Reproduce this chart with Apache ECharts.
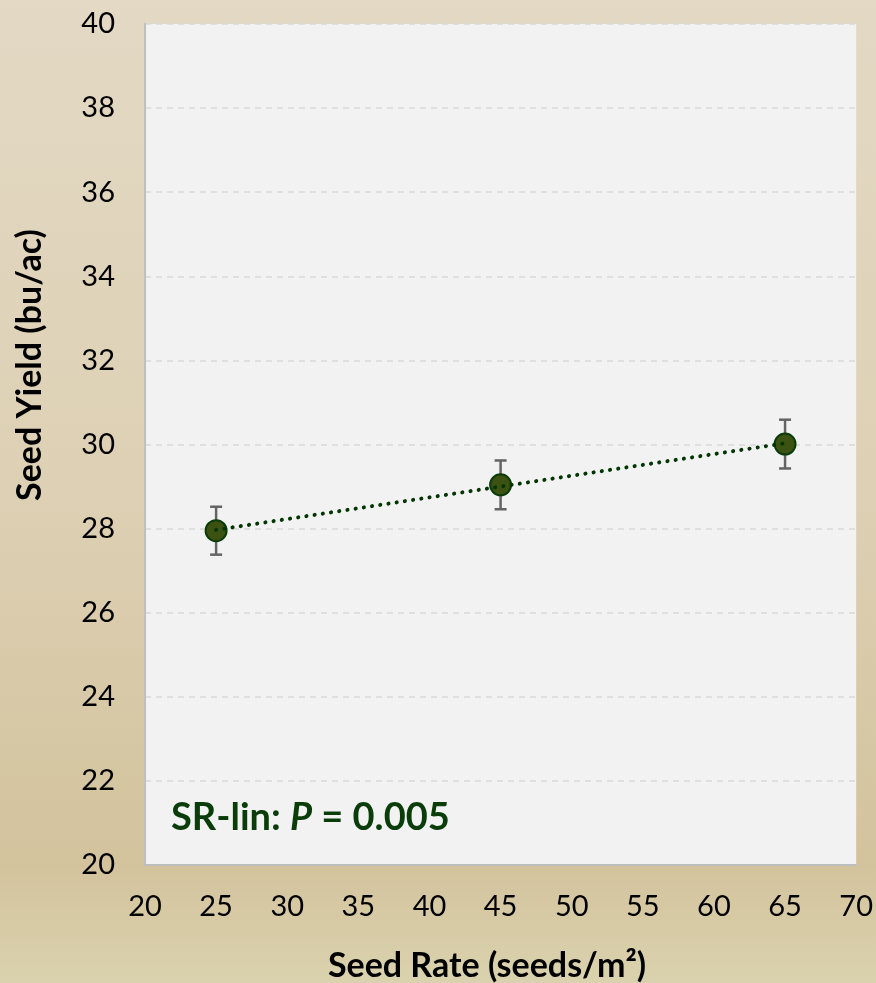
<!DOCTYPE html>
<html>
<head>
<meta charset="utf-8">
<script src="https://cdn.jsdelivr.net/npm/echarts@6/dist/echarts.min.js"></script>
<style>
html,body{margin:0;padding:0;width:876px;height:983px;overflow:hidden;}
#chart{width:876px;height:983px;}
</style>
</head>
<body>
<div id="chart"></div>
<script>
// Data
const seedRates = [25, 45, 65];
const seedYield = [27.95, 29.04, 30.01];
const yieldErr = [0.57, 0.58, 0.58];
const trendX = [25, 65];
const trendY = [27.97, 30.03];
const xTicks = [20, 25, 30, 35, 40, 45, 50, 55, 60, 65, 70];
const yTicks = [20, 22, 24, 26, 28, 30, 32, 34, 36, 38, 40];
const annotation = { label: 'SR-lin: ', italic: 'P', rest: ' = 0.005' };
const xTitle = 'Seed Rate (seeds/m²)';
const yTitle = 'Seed Yield (bu/ac)';

const FONT = 'Lato, "Open Sans", sans-serif';
const chart = echarts.init(document.getElementById('chart'), null, { renderer: 'canvas' });

const points = seedRates.map((x, i) => [x, seedYield[i]]);
const errData = seedRates.map((x, i) => [x, seedYield[i] - yieldErr[i], seedYield[i] + yieldErr[i]]);
const trendData = trendX.map((x, i) => [x, trendY[i]]);

const option = {
  animation: false,
  backgroundColor: 'transparent',
  graphic: [
    {
      type: 'rect', z: -100, silent: true,
      shape: { x: 0, y: 0, width: 876, height: 983 },
      style: {
        fill: new echarts.graphic.LinearGradient(0, 0, 0, 1, [
          { offset: 0, color: '#e3d9c4' },
          { offset: 0.5, color: '#ddd0b4' },
          { offset: 0.88, color: '#d3c39d' },
          { offset: 1, color: '#dad2ae' }
        ])
      }
    },
    {
      type: 'text', z: 100,
      x: 171, y: 818,
      style: {
        text: '{b|' + annotation.label + '}{i|' + annotation.italic + '}{b|' + annotation.rest + '}',
        verticalAlign: 'middle',
        align: 'left',
        rich: {
          b: { fontFamily: FONT, fontWeight: 'bold', fontSize: 38, fill: '#0b3d0b', color: '#0b3d0b' },
          i: { fontFamily: FONT, fontWeight: 'bold', fontStyle: 'italic', fontSize: 38, fill: '#0b3d0b', color: '#0b3d0b' }
        }
      }
    },
    {
      type: 'text', z: 100,
      x: 487, y: 966,
      style: {
        text: xTitle, align: 'center', verticalAlign: 'middle',
        fontFamily: FONT, fontWeight: 'bold', fontSize: 34, fill: '#000'
      }
    },
    {
      type: 'text', z: 100,
      x: 30, y: 365, rotation: Math.PI / 2,
      style: {
        text: yTitle, align: 'center', verticalAlign: 'middle',
        fontFamily: FONT, fontWeight: 'bold', fontSize: 34, fill: '#000'
      }
    }
  ],
  grid: {
    left: 145, top: 24, right: 18, bottom: 118,
    show: true, backgroundColor: '#f2f2f2', borderWidth: 0
  },
  xAxis: {
    type: 'value', min: xTicks[0], max: xTicks[xTicks.length - 1], interval: 5,
    axisLine: { show: true, onZero: false, lineStyle: { color: '#bfbfbf', width: 2 } },
    axisTick: { show: false },
    splitLine: { show: false },
    axisLabel: {
      fontFamily: FONT, fontSize: 29, color: '#000', margin: 42, verticalAlign: 'middle'
    }
  },
  yAxis: {
    type: 'value', min: yTicks[0], max: yTicks[yTicks.length - 1], interval: 2,
    axisLine: { show: true, onZero: false, lineStyle: { color: '#bfbfbf', width: 2 } },
    axisTick: { show: false },
    splitLine: { show: true, lineStyle: { color: '#d9d9d9', width: 1.5, type: [6, 5] } },
    axisLabel: {
      fontFamily: FONT, fontSize: 29, color: '#000', margin: 30
    }
  },
  series: [
    {
      type: 'custom',
      name: 'error',
      z: 3,
      data: errData,
      renderItem: function (params, api) {
        const x = api.value(0);
        const lo = api.coord([x, api.value(1)]);
        const hi = api.coord([x, api.value(2)]);
        const hw = 6;
        const st = { stroke: '#646464', lineWidth: 2.5 };
        return {
          type: 'group',
          children: [
            { type: 'line', shape: { x1: lo[0], y1: lo[1], x2: hi[0], y2: hi[1] }, style: st },
            { type: 'line', shape: { x1: lo[0] - hw, y1: lo[1], x2: lo[0] + hw, y2: lo[1] }, style: st },
            { type: 'line', shape: { x1: hi[0] - hw, y1: hi[1], x2: hi[0] + hw, y2: hi[1] }, style: st }
          ]
        };
      }
    },
    {
      type: 'scatter',
      name: 'yield',
      z: 4,
      data: points,
      symbol: 'circle',
      symbolSize: 21,
      itemStyle: { color: '#3c5213', borderColor: '#0b3b0b', borderWidth: 2, opacity: 1 }
    },
    {
      type: 'line',
      name: 'trend',
      z: 5,
      data: trendData,
      showSymbol: false,
      symbol: 'none',
      lineStyle: { color: '#033503', width: 4, type: [0.1, 8.2], cap: 'round' }
    }
  ]
};
chart.setOption(option);
</script>
</body>
</html>
